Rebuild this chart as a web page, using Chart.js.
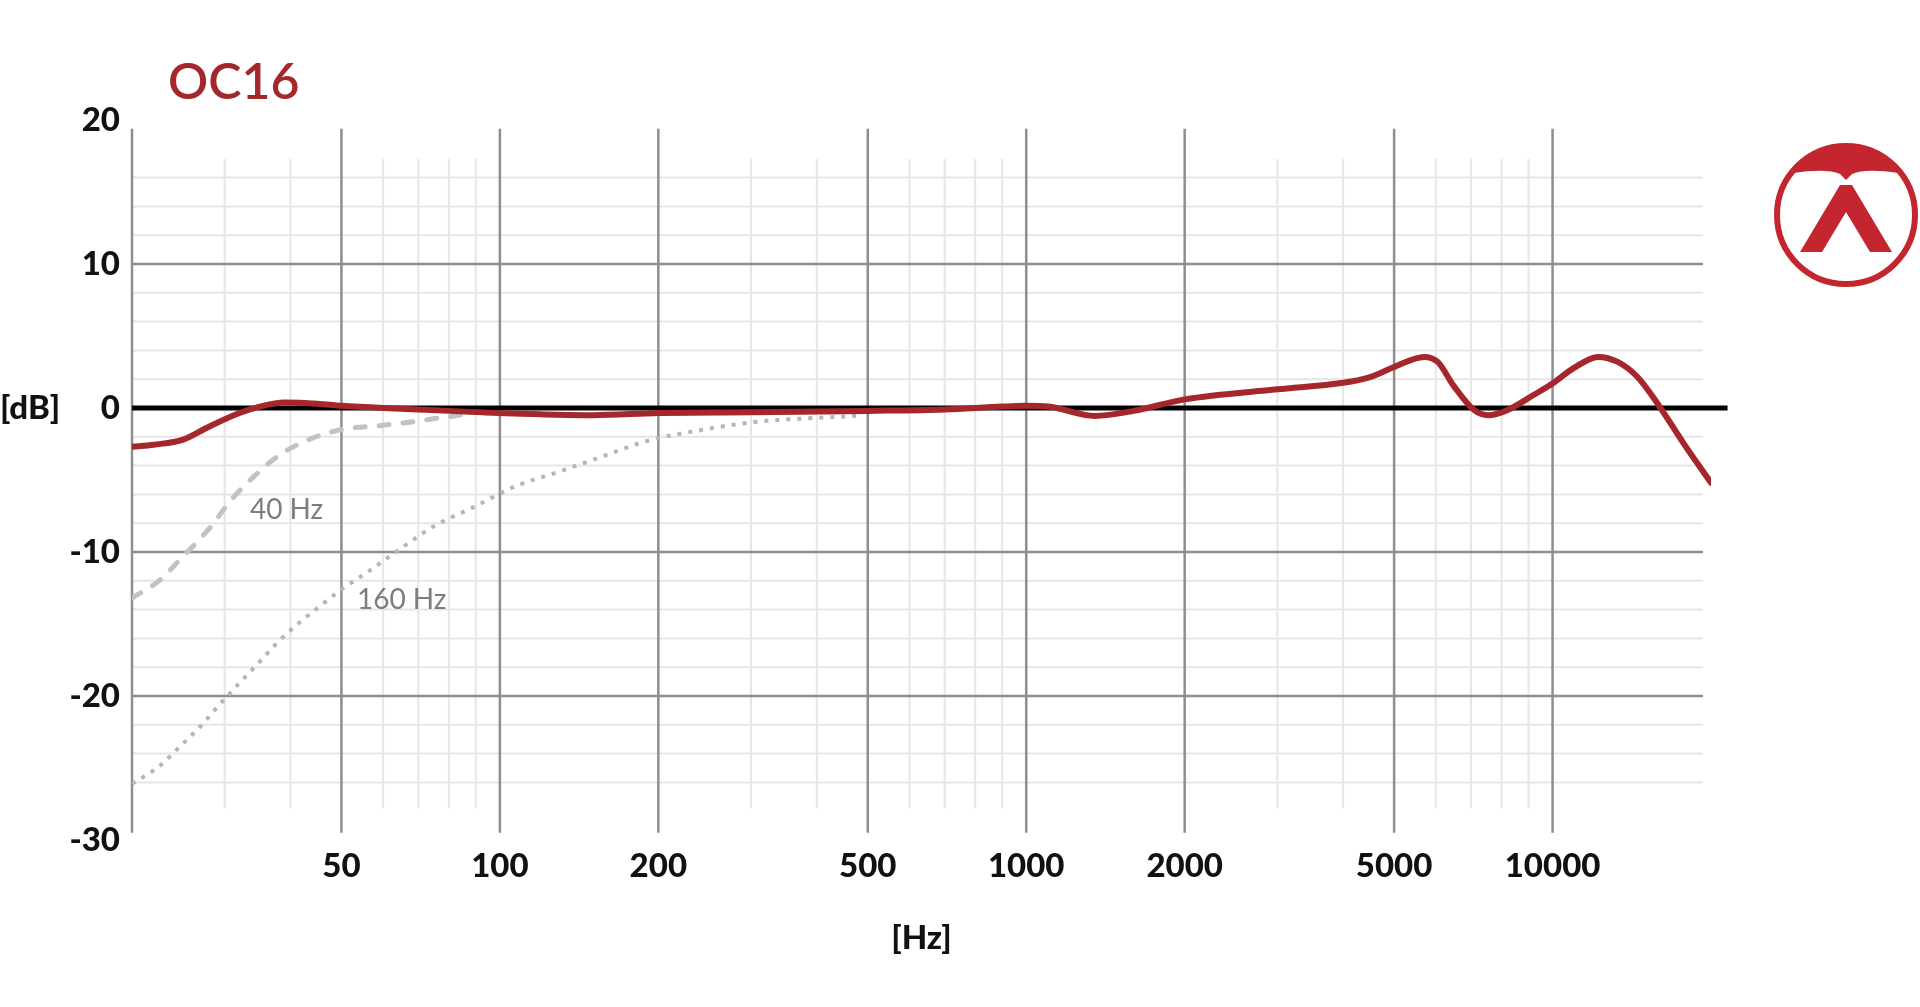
<!DOCTYPE html>
<html>
<head>
<meta charset="utf-8">
<title>OC16</title>
<script src="https://cdn.jsdelivr.net/npm/chart.js@4.4.0/dist/chart.umd.min.js"></script>
<style>
  html, body { margin: 0; padding: 0; background: #fff; }
  canvas { display: block; }
</style>
</head>
<body>
<canvas id="chart" width="1920" height="1007"></canvas>
<script>
// OC16 frequency response
const respFreq = [20, 22, 25, 28, 32, 35, 39, 45, 50, 65, 100, 150, 200, 300, 500, 700, 900, 1000, 1100, 1350, 1600, 2000, 3000, 4000, 4500, 5000, 5700, 6050, 6500, 7100, 7550, 8200, 9200, 10000, 11000, 12200, 13300, 14500, 15800, 17700, 20000];
const respDb = [-2.7, -2.55, -2.2, -1.3, -0.35, 0.1, 0.38, 0.3, 0.15, -0.05, -0.35, -0.5, -0.35, -0.3, -0.2, -0.1, 0.1, 0.15, 0.1, -0.55, -0.2, 0.6, 1.3, 1.75, 2.15, 2.85, 3.55, 3.2, 1.5, -0.15, -0.5, -0.15, 0.9, 1.7, 2.8, 3.55, 3.2, 2.15, 0.35, -2.4, -5.2];

// low cut 40 Hz (dashed)
const cut40Freq = [20, 22.5, 25, 28, 31, 34, 38, 44, 50, 60, 70, 80, 88];
const cut40Db = [-13.2, -12.0, -10.3, -8.4, -6.3, -4.8, -3.3, -2.1, -1.5, -1.2, -0.9, -0.6, -0.4];

// low cut 160 Hz (dotted)
const cut160Freq = [20, 22.5, 25, 27, 29, 32, 35, 38, 41, 45, 50, 56, 64, 75, 89, 106, 130, 153, 190, 244, 308, 370, 475];
const cut160Db = [-26.1, -24.9, -23.3, -22.1, -20.8, -19.1, -17.6, -16.2, -15.1, -13.9, -12.6, -11.4, -9.9, -8.2, -6.9, -5.5, -4.4, -3.5, -2.3, -1.5, -0.95, -0.75, -0.55];

const xTicks = [50, 100, 200, 500, 1000, 2000, 5000, 10000];
const xMinor = [30, 40, 60, 70, 80, 90, 300, 400, 600, 700, 800, 900, 3000, 4000, 6000, 7000, 8000, 9000];
const yTicks = [20, 10, 0, -10, -20, -30];
const yMajor = [10, -10, -20];
const yMinor = [16, 14, 12, 8, 6, 4, 2, -2, -4, -6, -8, -12, -14, -16, -18, -22, -24, -26];

const RED = '#a5272c';
const tickFont = { family: 'Lato', weight: '900', size: 33 };

function toPoints(xs, ys) {
    return xs.map((v, i) => ({ x: v, y: ys[i] }));
}

function line(ctx, x1, y1, x2, y2) {
    ctx.beginPath();
    ctx.moveTo(x1, y1);
    ctx.lineTo(x2, y2);
    ctx.stroke();
}

function drawLogo(ctx, cx, cy) {
    ctx.save();
    ctx.translate(cx, cy);
    ctx.strokeStyle = '#c3262e';
    ctx.fillStyle = '#c3262e';
    ctx.lineWidth = 6;
    ctx.beginPath();
    ctx.arc(0, 0, 69, 0, Math.PI * 2);
    ctx.stroke();

    // cap at the top
    const r = 67;
    const sy = -42, sx = Math.sqrt(r * r - sy * sy);
    ctx.beginPath();
    ctx.arc(0, 0, r, Math.atan2(sy, -sx), Math.atan2(sy, sx));
    ctx.quadraticCurveTo(20, -47, 6, -41);
    ctx.lineTo(0, -35);
    ctx.lineTo(-6, -41);
    ctx.quadraticCurveTo(-20, -47, -sx, sy);
    ctx.closePath();
    ctx.fill();

    // the lambda
    ctx.beginPath();
    ctx.moveTo(-6, -30);
    ctx.lineTo(6, -30);
    ctx.lineTo(46, 37);
    ctx.lineTo(24, 37);
    ctx.lineTo(0, -3);
    ctx.lineTo(-24, 37);
    ctx.lineTo(-46, 37);
    ctx.closePath();
    ctx.fill();
    ctx.restore();
}

const gridPlugin = {
    id: 'ocGrid',
    beforeDatasetsDraw(chart) {
        const ctx = chart.ctx;
        const xs = chart.scales.x, ys = chart.scales.y;
        const left = xs.getPixelForValue(20);
        const right = xs.getPixelForValue(19300);
        ctx.save();

        ctx.strokeStyle = '#e6e6e6';
        ctx.lineWidth = 2;
        yMinor.forEach(v => {
            const py = ys.getPixelForValue(v);
            line(ctx, left, py, right, py);
        });
        const mTop = ys.getPixelForValue(17.3), mBot = ys.getPixelForValue(-27.8);
        xMinor.forEach(v => {
            const px = xs.getPixelForValue(v);
            line(ctx, px, mTop, px, mBot);
        });

        ctx.strokeStyle = '#8e8e8e';
        ctx.lineWidth = 2.5;
        yMajor.forEach(v => {
            const py = ys.getPixelForValue(v);
            line(ctx, left, py, right, py);
        });
        const MTop = ys.getPixelForValue(19.4), MBot = ys.getPixelForValue(-29.5);
        [20].concat(xTicks).forEach(v => {
            const px = xs.getPixelForValue(v);
            line(ctx, px, MTop, px, MBot);
        });

        ctx.strokeStyle = '#000';
        ctx.lineWidth = 5;
        const y0 = ys.getPixelForValue(0);
        line(ctx, left, y0, xs.getPixelForValue(21500), y0);
        ctx.restore();
    },
    afterDraw(chart) {
        const ctx = chart.ctx;
        const xs = chart.scales.x, ys = chart.scales.y;
        ctx.save();
        ctx.fillStyle = RED;
        ctx.font = '600 50px Lato';
        ctx.textAlign = 'left';
        ctx.textBaseline = 'alphabetic';
        ctx.fillText('OC16', 168, 99);

        ctx.fillStyle = '#111';
        ctx.font = '900 33px Lato';
        ctx.textBaseline = 'middle';
        ctx.fillText('[dB]', 0, ys.getPixelForValue(0));

        ctx.fillStyle = '#7d7d7d';
        ctx.font = '400 28px Lato';
        ctx.fillText('40 Hz', xs.getPixelForValue(33.5), ys.getPixelForValue(-7.1));
        ctx.fillText('160 Hz', xs.getPixelForValue(53.5), ys.getPixelForValue(-13.3));
        ctx.restore();

        drawLogo(ctx, 1846, 215);
    }
};

new Chart(document.getElementById('chart'), {
    type: 'line',
    data: {
        datasets: [{
            label: 'OC16',
            data: toPoints(respFreq, respDb),
            borderColor: RED,
            borderWidth: 6,
            cubicInterpolationMode: 'monotone',
            pointRadius: 0,
            borderCapStyle: 'round'
        }, {
            label: '40 Hz',
            data: toPoints(cut40Freq, cut40Db),
            borderColor: '#c2c2c6',
            borderWidth: 5,
            borderDash: [10, 14],
            borderCapStyle: 'round',
            cubicInterpolationMode: 'monotone',
            pointRadius: 0
        }, {
            label: '160 Hz',
            data: toPoints(cut160Freq, cut160Db),
            borderColor: '#b6b6b6',
            borderWidth: 4,
            borderDash: [4, 7],
            cubicInterpolationMode: 'monotone',
            pointRadius: 0
        }]
    },
    options: {
        responsive: false,
        animation: false,
        devicePixelRatio: 1,
        layout: { padding: { top: 120, right: 209, left: 0, bottom: 0 } },
        plugins: {
            legend: { display: false },
            tooltip: { enabled: false }
        },
        scales: {
            x: {
                type: 'logarithmic',
                min: 20,
                max: 20000,
                afterBuildTicks: s => { s.ticks = xTicks.map(v => ({ value: v })); },
                afterFit: s => { s.height = 167; },
                grid: { display: false, drawTicks: false },
                border: { display: false },
                ticks: {
                    autoSkip: false,
                    maxRotation: 0,
                    padding: 7,
                    color: '#111',
                    font: tickFont,
                    callback: v => String(v)
                },
                title: {
                    display: true,
                    text: '[Hz]',
                    color: '#111',
                    font: tickFont,
                    padding: { top: 0, bottom: 49 }
                }
            },
            y: {
                min: -30,
                max: 20,
                afterBuildTicks: s => { s.ticks = yTicks.map(v => ({ value: v })); },
                afterFit: s => { s.width = 132; },
                grid: { display: false, drawTicks: false },
                border: { display: false },
                ticks: {
                    padding: 12,
                    color: '#111',
                    font: tickFont,
                    callback: v => String(v)
                }
            }
        }
    },
    plugins: [gridPlugin]
});
</script>
</body>
</html>
